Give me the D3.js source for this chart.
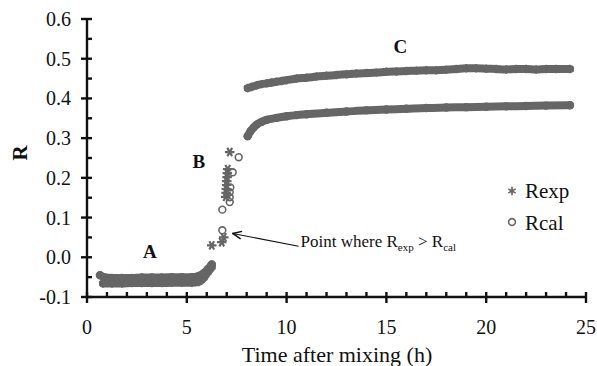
<!DOCTYPE html>
<html>
<head>
<meta charset="utf-8">
<script src="https://cdn.jsdelivr.net/npm/d3@7"></script>
<style>
  html, body { margin: 0; padding: 0; background: #fff; }
  svg text { font-family: "Liberation Serif", "Times New Roman", serif; fill: #111; }
</style>
</head>
<body>
<div id="chart"></div>
<script>
// measured series, [time (h), R]
const rexpA = [[0.8,-0.066],[1.25,-0.066],[1.75,-0.066],[2.25,-0.065],[2.75,-0.065],[3.25,-0.065],[3.75,-0.065],[4.25,-0.064],[4.75,-0.064],[5.25,-0.064],[5.6,-0.062],[5.85,-0.052],[6.05,-0.038],[6.25,-0.025]];
const rexpB = [[6.25,0.03],[6.75,0.038],[6.85,0.05],[6.95,0.152],[6.97,0.162],[6.98,0.172],[7.0,0.182],[7.0,0.192],[7.02,0.202],[7.03,0.212],[7.05,0.222],[7.15,0.265]];
const rexpC = [[8.05,0.426],[8.25,0.429],[8.5,0.433],[8.75,0.436],[9,0.438],[9.25,0.44],[9.5,0.442],[9.75,0.444],[10,0.446],[10.5,0.45],[11,0.452],[11.5,0.455],[12,0.457],[12.5,0.459],[13,0.461],[13.5,0.463],[14,0.464],[14.5,0.465],[15,0.467],[15.5,0.468],[16,0.469],[16.5,0.47],[17,0.471],[17.5,0.471],[18,0.472],[18.5,0.474],[19,0.476],[19.5,0.476],[20,0.475],[20.5,0.474],[21,0.473],[21.5,0.474],[22,0.474],[22.5,0.473],[23,0.474],[23.5,0.474],[24.2,0.474]];

const rcalA = [[0.65,-0.045],[0.9,-0.051],[1.25,-0.052],[1.75,-0.052],[2.25,-0.052],[2.75,-0.051],[3.25,-0.051],[3.75,-0.051],[4.25,-0.05],[4.75,-0.05],[5.25,-0.05],[5.6,-0.047],[5.85,-0.04],[6.05,-0.03],[6.25,-0.018]];
const rcalB = [[6.78,0.068],[6.78,0.12],[7.15,0.139],[7.15,0.151],[7.15,0.164],[7.18,0.176],[7.3,0.214],[7.6,0.252]];
const rcalC = [[8.05,0.305],[8.2,0.318],[8.35,0.327],[8.5,0.334],[8.75,0.341],[9,0.346],[9.5,0.351],[10,0.355],[10.5,0.358],[11,0.36],[12,0.364],[13,0.367],[14,0.37],[15,0.372],[16,0.374],[17,0.376],[18,0.377],[19,0.378],[20,0.379],[21,0.38],[22,0.381],[23,0.382],[24.2,0.383]];

const xMajor = [0, 5, 10, 15, 20, 25];
const yMajor = [-0.1, 0.0, 0.1, 0.2, 0.3, 0.4, 0.5, 0.6];
const xMinor = [1,2,3,4,6,7,8,9,11,12,13,14,16,17,18,19,21,22,23,24];
const yMinor = [-0.05, 0.05, 0.15, 0.25, 0.35, 0.45, 0.55];

// region letters and the arrow note, in data units
const regionLabels = [["A", 3.15, -0.002], ["B", 5.6, 0.225], ["C", 15.7, 0.515]];
const arrowFrom = [10.6, 0.028];
const arrowTo = [7.3, 0.06];

const width = 597, height = 366;
const grey = "#666";

const svg = d3.select("#chart").append("svg")
    .attr("width", width)
    .attr("height", height);

// open arrow head
svg.append("defs").append("marker")
    .attr("id", "arrow")
    .attr("viewBox", "0 0 10 10")
    .attr("refX", 9).attr("refY", 5)
    .attr("markerWidth", 11).attr("markerHeight", 11)
    .attr("markerUnits", "userSpaceOnUse")
    .attr("orient", "auto")
    .append("path")
    .attr("d", "M1,1.5 L9,5 L1,8.5")
    .attr("fill", "none")
    .attr("stroke", "#111")
    .attr("stroke-width", 1.3);

const x = d3.scaleLinear().domain([0, 25]).range([87, 586]);
const y = d3.scaleLinear().domain([-0.1, 0.6]).range([297, 19]);

// thick bands where the markers are packed so tightly they merge
const band = d3.line().x(d => x(d[0])).y(d => y(d[1])).curve(d3.curveMonotoneX);
const plot = svg.append("g");
[rcalA, rexpA, rcalC, rexpC].forEach(pts => {
    plot.append("path")
        .attr("d", band(pts))
        .attr("fill", "none")
        .attr("stroke", grey)
        .attr("stroke-width", 8)
        .attr("stroke-linecap", "round");
});

const star = d3.symbol().type(d3.symbolAsterisk).size(50);
const bigStar = d3.symbol().type(d3.symbolAsterisk).size(64);

plot.append("g")
    .selectAll("circle")
    .data([...rcalA, ...rcalB, ...rcalC])
    .enter().append("circle")
    .attr("cx", d => x(d[0]))
    .attr("cy", d => y(d[1]))
    .attr("r", 3.4)
    .attr("fill", "none")
    .attr("stroke", grey)
    .attr("stroke-width", 1.6);

plot.append("g")
    .selectAll("path")
    .data([...rexpA, ...rexpC])
    .enter().append("path")
    .attr("transform", d => "translate(" + x(d[0]) + "," + y(d[1]) + ")")
    .attr("d", star)
    .attr("fill", "none")
    .attr("stroke", grey)
    .attr("stroke-width", 1.7);

plot.append("g")
    .selectAll("path")
    .data(rexpB)
    .enter().append("path")
    .attr("transform", d => "translate(" + x(d[0]) + "," + y(d[1]) + ") rotate(30)")
    .attr("d", bigStar)
    .attr("fill", "none")
    .attr("stroke", grey)
    .attr("stroke-width", 2.2);

// axes
const axes = svg.append("g").attr("stroke", "#111").attr("stroke-width", 2.4);
axes.append("line").attr("x1", x(0)).attr("x2", x(0)).attr("y1", y(0.6)).attr("y2", y(-0.1));
axes.append("line").attr("x1", x(0)).attr("x2", x(25)).attr("y1", y(-0.1)).attr("y2", y(-0.1));
axes.selectAll(".ym").data(yMajor).enter().append("line")
    .attr("x1", x(0) - 6).attr("x2", x(0) + 5)
    .attr("y1", d => y(d)).attr("y2", d => y(d));
axes.selectAll(".yn").data(yMinor).enter().append("line")
    .attr("x1", x(0)).attr("x2", x(0) + 5)
    .attr("y1", d => y(d)).attr("y2", d => y(d));
axes.selectAll(".xm").data(xMajor).enter().append("line")
    .attr("x1", d => x(d)).attr("x2", d => x(d))
    .attr("y1", y(-0.1) - 5).attr("y2", y(-0.1) + 6);
axes.selectAll(".xn").data(xMinor).enter().append("line")
    .attr("x1", d => x(d)).attr("x2", d => x(d))
    .attr("y1", y(-0.1) - 5).attr("y2", y(-0.1));

svg.append("g").selectAll("text")
    .data(yMajor)
    .enter().append("text")
    .attr("x", 71)
    .attr("y", d => y(d))
    .attr("dy", "0.35em")
    .attr("text-anchor", "end")
    .style("font-size", "20px")
    .text(d => d.toFixed(1));

svg.append("g").selectAll("text")
    .data(xMajor)
    .enter().append("text")
    .attr("x", d => x(d))
    .attr("y", 334)
    .attr("text-anchor", "middle")
    .style("font-size", "20px")
    .text(d => d);

svg.append("text")
    .attr("x", 337).attr("y", 362)
    .attr("text-anchor", "middle")
    .style("font-size", "22px")
    .text("Time after mixing (h)");

svg.append("text")
    .attr("transform", "translate(27,153) rotate(-90)")
    .attr("text-anchor", "middle")
    .style("font-size", "21px")
    .style("font-weight", "bold")
    .text("R");

svg.append("g").selectAll("text")
    .data(regionLabels)
    .enter().append("text")
    .attr("x", d => x(d[1]))
    .attr("y", d => y(d[2]))
    .attr("text-anchor", "middle")
    .style("font-size", "19px")
    .style("font-weight", "bold")
    .text(d => d[0]);

// arrow note
svg.append("line")
    .attr("x1", x(arrowFrom[0])).attr("y1", y(arrowFrom[1]))
    .attr("x2", x(arrowTo[0])).attr("y2", y(arrowTo[1]))
    .attr("stroke", "#111")
    .attr("stroke-width", 1.1)
    .attr("marker-end", "url(#arrow)");

const note = svg.append("text")
    .attr("x", x(arrowFrom[0]) + 2)
    .attr("y", 247)
    .style("font-size", "17px");
note.append("tspan").text("Point where R");
note.append("tspan").attr("dy", 4).style("font-size", "11px").text("exp");
note.append("tspan").attr("dy", -4).text(" > R");
note.append("tspan").attr("dy", 4).style("font-size", "11px").text("cal");

// legend
const legend = svg.append("g").attr("transform", "translate(512,0)");
legend.append("path")
    .attr("transform", "translate(0,191)")
    .attr("d", star)
    .attr("fill", "none").attr("stroke", grey).attr("stroke-width", 1.7);
legend.append("circle")
    .attr("cx", 0).attr("cy", 222).attr("r", 3.4)
    .attr("fill", "none").attr("stroke", grey).attr("stroke-width", 1.6);
legend.append("text").attr("x", 13).attr("y", 198).style("font-size", "21px").text("Rexp");
legend.append("text").attr("x", 13).attr("y", 230).style("font-size", "21px").text("Rcal");
</script>
</body>
</html>
